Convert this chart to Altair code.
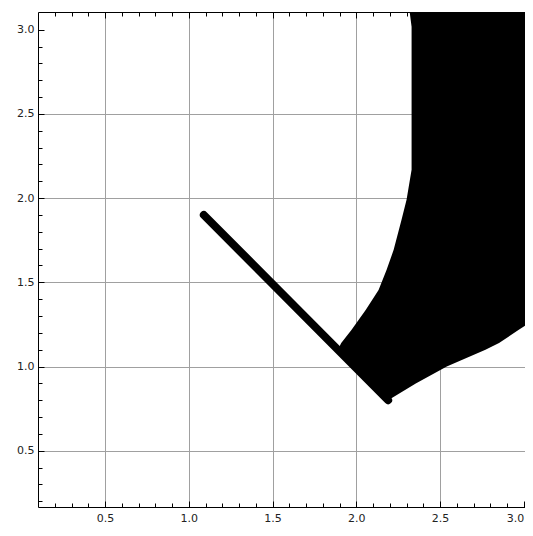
import altair as alt
import pandas as pd

# ---- data ----
# filled region: for each y, left and right x boundary
REGION_Y = [0.80, 0.90, 1.00, 1.10, 1.14, 1.218, 1.267, 1.336, 1.455, 1.574,
            1.693, 1.871, 1.99, 2.168, 3.017, 3.11]
REGION_X_LEFT = [2.19, 2.09, 1.99, 1.89, 1.91, 1.972, 2.007, 2.056, 2.133, 2.181,
                 2.223, 2.270, 2.300, 2.330, 2.330, 2.318]
REGION_X_RIGHT = [2.19, 2.355, 2.54, 2.771, 2.852, 2.97, 3.047, 3.4, 3.4, 3.4,
                  3.4, 3.4, 3.4, 3.4, 3.4, 3.4]

# thick line segment
LINE_X = [1.09, 2.19]
LINE_Y = [1.90, 0.80]

# ticks
MAJOR = [0.5, 1.0, 1.5, 2.0, 2.5, 3.0]
MINOR = [0.2, 0.3, 0.4, 0.5, 0.6, 0.7, 0.8, 0.9, 1.0, 1.1, 1.2, 1.3, 1.4, 1.5,
         1.6, 1.7, 1.8, 1.9, 2.0, 2.1, 2.2, 2.3, 2.4, 2.5, 2.6, 2.7, 2.8, 2.9, 3.0]

region = pd.DataFrame({"y": REGION_Y, "xl": REGION_X_LEFT, "xr": REGION_X_RIGHT})
line_df = pd.DataFrame({"x": LINE_X, "y": LINE_Y})

xs = alt.Scale(domain=[0.1, 3.007], nice=False, zero=False)
ys = alt.Scale(domain=[0.166, 3.105], nice=False, zero=False)

FONT = "DejaVu Sans"
GRID = "#a0a0a0"


def label_axis(orient, pad, flush=False):
    return alt.Axis(
        orient=orient, values=MAJOR, format=".1f", title=None,
        labelFont=FONT, labelFontSize=11, labelColor="#222222",
        labelPadding=pad, labelOverlap=False, labelFlush=flush,
        ticks=False, tickSize=0,
        domain=True, domainColor="black", domainWidth=1,
        grid=True, gridColor=GRID, gridWidth=1,
        gridOpacity=alt.condition("datum.value > 2.9", alt.value(0), alt.value(1)),
    )


def tick_axis(orient, values, size):
    return alt.Axis(
        orient=orient, values=values, offset=-size, tickSize=size,
        ticks=True, tickColor="black", tickWidth=1,
        domain=False, labels=False, grid=False, title=None,
    )


top_frame = alt.Axis(orient="top", ticks=False, labels=False, domain=True,
                     domainColor="black", domainWidth=1, grid=False, title=None)

area = alt.Chart(region).mark_area(orient="horizontal", color="black", clip=True).encode(
    x=alt.X("xl:Q", scale=xs, axis=label_axis("bottom", 5, flush=12)),
    x2="xr:Q",
    y=alt.Y("y:Q", scale=ys, axis=label_axis("left", 4)),
)

line = alt.Chart(line_df).mark_line(color="black", strokeWidth=8, strokeCap="round",
                                    clip=True).encode(
    x=alt.X("x:Q", scale=xs, axis=tick_axis("bottom", MINOR, 4)),
    y=alt.Y("y:Q", scale=ys, axis=tick_axis("left", MINOR, 4)),
)

inv_major = alt.Chart(line_df).mark_point(opacity=0).encode(
    x=alt.X("x:Q", scale=xs, axis=tick_axis("bottom", MAJOR, 6)),
    y=alt.Y("y:Q", scale=ys, axis=tick_axis("left", MAJOR, 6)),
)

inv_top_minor = alt.Chart(line_df).mark_point(opacity=0).encode(
    x=alt.X("x:Q", scale=xs, axis=tick_axis("top", MINOR, 4)),
    y=alt.Y("y:Q", scale=ys, axis=None),
)

inv_top_major = alt.Chart(line_df).mark_point(opacity=0).encode(
    x=alt.X("x:Q", scale=xs, axis=tick_axis("top", MAJOR, 6)),
    y=alt.Y("y:Q", scale=ys, axis=None),
)

inv_top_frame = alt.Chart(line_df).mark_point(opacity=0).encode(
    x=alt.X("x:Q", scale=xs, axis=top_frame),
    y=alt.Y("y:Q", scale=ys, axis=None),
)

chart = alt.layer(
    area, line, inv_major, inv_top_minor, inv_top_major, inv_top_frame
).resolve_axis(
    x="independent", y="independent"
).properties(
    width=487, height=495,
    autosize=alt.AutoSizeParams(type="none"),
    padding={"left": 30, "top": 4, "right": 0, "bottom": 17},
    background="white",
).configure_view(stroke=None)

chart.save("out.html", embed_options={"renderer": "svg", "actions": False})
